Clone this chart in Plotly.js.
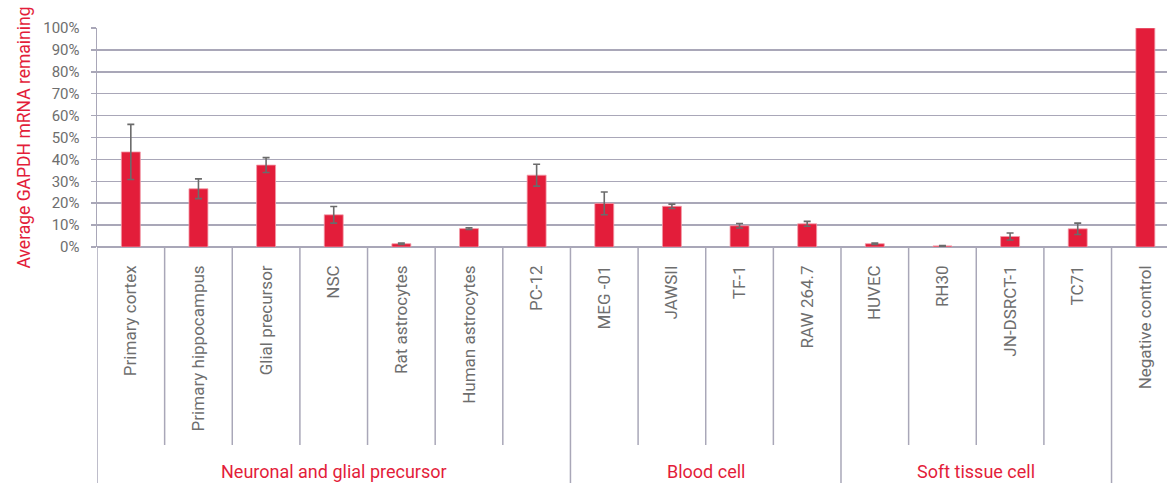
<!DOCTYPE html>
<html>
<head>
<meta charset="utf-8">
<script src="https://cdn.plot.ly/plotly-3.0.1.min.js"></script>
<style>
  html, body { margin: 0; padding: 0; background: #ffffff; }
  #chart { width: 1167px; height: 483px; }
</style>
</head>
<body>
<div id="chart"></div>
<script>
// ---- data ----
var categories = [
  "Primary cortex", "Primary hippocampus", "Glial precursor", "NSC",
  "Rat astrocytes", "Human astrocytes", "PC-12",
  "MEG -01", "JAWSII", "TF-1", "RAW 264.7",
  "HUVEC", "RH30", "JN-DSRCT-1", "TC71",
  "Negative control"
];
var values = [43.4, 26.6, 37.4, 14.7, 1.5, 8.4, 32.8, 19.9, 18.6, 9.7, 10.6, 1.5, 0.5, 4.8, 8.3, 100];
var errors = [12.6, 4.5, 3.4, 3.8, 0.3, 0.4, 5.0, 5.2, 1.0, 1.0, 1.1, 0.3, 0.2, 1.6, 2.6, NaN];
var groupNames = ["Neuronal and glial precursor", "Blood cell", "Soft tissue cell", ""];
var groupSizes = [7, 4, 4, 1];
var yTickVals = [0, 10, 20, 30, 40, 50, 60, 70, 80, 90, 100];

// ---- styles ----
var red = "#e31d3a";
var grid = "#a9a7b8";
var textGray = "#6e6e6e";
var font = "Roboto, 'Open Sans', sans-serif";

var xIdx = categories.map(function (c, i) { return i; });

var trace = {
  type: "bar",
  x: xIdx,
  y: values,
  marker: { color: red, line: { color: "#f19aa8", width: 0.8 } },
  width: 0.28,
  error_y: {
    type: "data",
    array: errors,
    visible: true,
    color: "#6b6b6b",
    thickness: 1.6,
    width: 3.5
  },
  hoverinfo: "x+y"
};

// divider lines & group labels
var shapes = [];
var annotations = [];
var boundaries = {};
var start = 0;
groupSizes.forEach(function (n, g) {
  boundaries[start] = true;
  var center = start + (n - 1) / 2;
  if (groupNames[g]) {
    annotations.push({
      xref: "x", yref: "paper",
      x: center, y: -1.026,
      text: groupNames[g],
      showarrow: false,
      xanchor: "center", yanchor: "middle",
      font: { family: font, size: 18, color: red }
    });
  }
  start += n;
});
for (var i = 0; i <= categories.length; i++) {
  var full = !!boundaries[i];
  shapes.push({
    type: "line", xref: "x", yref: "paper",
    x0: i - 0.5, x1: i - 0.5,
    y0: 0, y1: full ? -1.1 : -0.904,
    line: { color: grid, width: 1.5 }
  });
}

var layout = {
  width: 1167,
  height: 483,
  margin: { l: 97, r: 0, t: 28, b: 236 },
  paper_bgcolor: "#ffffff",
  plot_bgcolor: "#ffffff",
  showlegend: false,
  font: { family: font, color: textGray },
  xaxis: {
    range: [-0.5, 15.32],
    tickmode: "array",
    tickvals: xIdx,
    ticktext: categories,
    tickangle: -90,
    ticks: "",
    ticklabelstandoff: 14,
    tickfont: { family: font, size: 17, color: textGray },
    showgrid: false,
    zeroline: false,
    showline: false,
    fixedrange: true
  },
  yaxis: {
    range: [0, 100],
    tickmode: "array",
    tickvals: yTickVals,
    ticktext: yTickVals.map(function (v) { return v + "%"; }),
    ticks: "outside",
    ticklen: 5,
    tickwidth: 1.5,
    tickcolor: grid,
    ticklabelstandoff: 8,
    tickfont: { family: font, size: 15, color: textGray },
    showgrid: true,
    gridcolor: grid,
    gridwidth: 1.5,
    zeroline: true,
    zerolinecolor: grid,
    zerolinewidth: 1.5,
    showline: true,
    linecolor: grid,
    linewidth: 1.5,
    title: {
      text: "Average GAPDH mRNA remaining",
      font: { family: font, size: 17.5, color: red },
      standoff: 8
    },
    fixedrange: true
  },
  shapes: shapes,
  annotations: annotations
};

Plotly.newPlot("chart", [trace], layout, { displayModeBar: false, staticPlot: true });
</script>
</body>
</html>
